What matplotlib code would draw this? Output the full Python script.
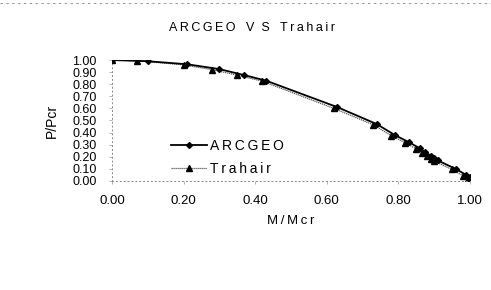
import matplotlib
matplotlib.use("Agg")
import matplotlib.pyplot as plt
from matplotlib.lines import Line2D

plt.rcParams['font.family'] = ['Liberation Sans', 'DejaVu Sans']

arc_x = [0.00, 0.10, 0.21, 0.30, 0.37, 0.43, 0.63, 0.74, 0.79, 0.83, 0.86, 0.875, 0.89, 0.90, 0.91, 0.96, 0.99, 1.00]
arc_y = [1.00, 0.99, 0.965, 0.925, 0.875, 0.83, 0.61, 0.47, 0.38, 0.32, 0.27, 0.24, 0.21, 0.19, 0.17, 0.10, 0.05, 0.03]
tra_x = [0.00, 0.07, 0.20, 0.28, 0.35, 0.42, 0.62, 0.73, 0.78, 0.82, 0.85, 0.865, 0.88, 0.89, 0.90, 0.95, 0.98, 0.995]
tra_y = [1.00, 0.995, 0.96, 0.92, 0.875, 0.825, 0.60, 0.465, 0.375, 0.315, 0.265, 0.235, 0.205, 0.185, 0.165, 0.095, 0.045, 0.02]

xticks = [0.0, 0.2, 0.4, 0.6, 0.8, 1.0]
xtick_labels = ["0.00", "0.20", "0.40", "0.60", "0.80", "1.00"]
yticks = [i / 10 for i in range(11)]
ytick_labels = [f"{v:.2f}" for v in yticks]

TS = "\u2009"  # thin space for letter spacing

fig = plt.figure(figsize=(4.91, 2.90), dpi=100)
ax = fig.add_axes([0.228, 0.376, 0.729, 0.417])

ax.plot(tra_x, tra_y, color='#555555', lw=0.9, linestyle=(0, (1, 0.6)),
        marker='^', ms=3.8, mfc='black', mec='black', label='Trahair', zorder=2)
ax.plot(arc_x, arc_y, color='black', lw=1.3, marker='D', ms=3.0,
        mfc='black', mec='black', label='ARCGEO', zorder=3)

ax.set_xlim(0, 1.0)
ax.set_ylim(0, 1.0)
ax.set_xticks(xticks)
ax.set_xticklabels(xtick_labels, fontsize=9.5)
ax.set_yticks(yticks)
ax.set_yticklabels(ytick_labels, fontsize=9)
ax.tick_params(length=2, width=0.5, color='#999999', pad=9)
ax.tick_params(axis='x', pad=8)
for s in ['top', 'right']:
    ax.spines[s].set_visible(False)
for s in ['left', 'bottom']:
    ax.spines[s].set_linestyle((0, (1, 3)))
    ax.spines[s].set_color('#888888')
    ax.spines[s].set_linewidth(0.7)

ax.set_xlabel("M" + TS + "/" + TS + "M" + TS + "c" + TS + "r", fontsize=9.5, labelpad=6)
ax.set_ylabel("P/Pcr", fontsize=10, labelpad=10)

handles = [Line2D([], [], color='black', lw=1.3, marker='D', ms=3.0),
           Line2D([], [], color='#555555', lw=0.9, linestyle=(0, (1, 0.6)), marker='^', ms=3.8,
                  mfc='black', mec='black')]
ax.legend(handles, [TS.join("ARCGEO"), TS.join("Trahair")], loc='upper left',
          bbox_to_anchor=(0.13, 0.45), frameon=False, fontsize=10,
          handlelength=2.6, handletextpad=0.2, labelspacing=0.65)

title = TS.join("ARCGEO") + "   V  S   " + TS.join("Trahair")
fig.text(0.513, 0.905, title, ha='center', va='center', fontsize=9)
fig.add_artist(Line2D([0.0, 1.0], [0.99, 0.99], transform=fig.transFigure,
                      color='#888888', lw=0.6, linestyle=(0, (3, 4))))

fig.savefig("out.png", dpi=100)
